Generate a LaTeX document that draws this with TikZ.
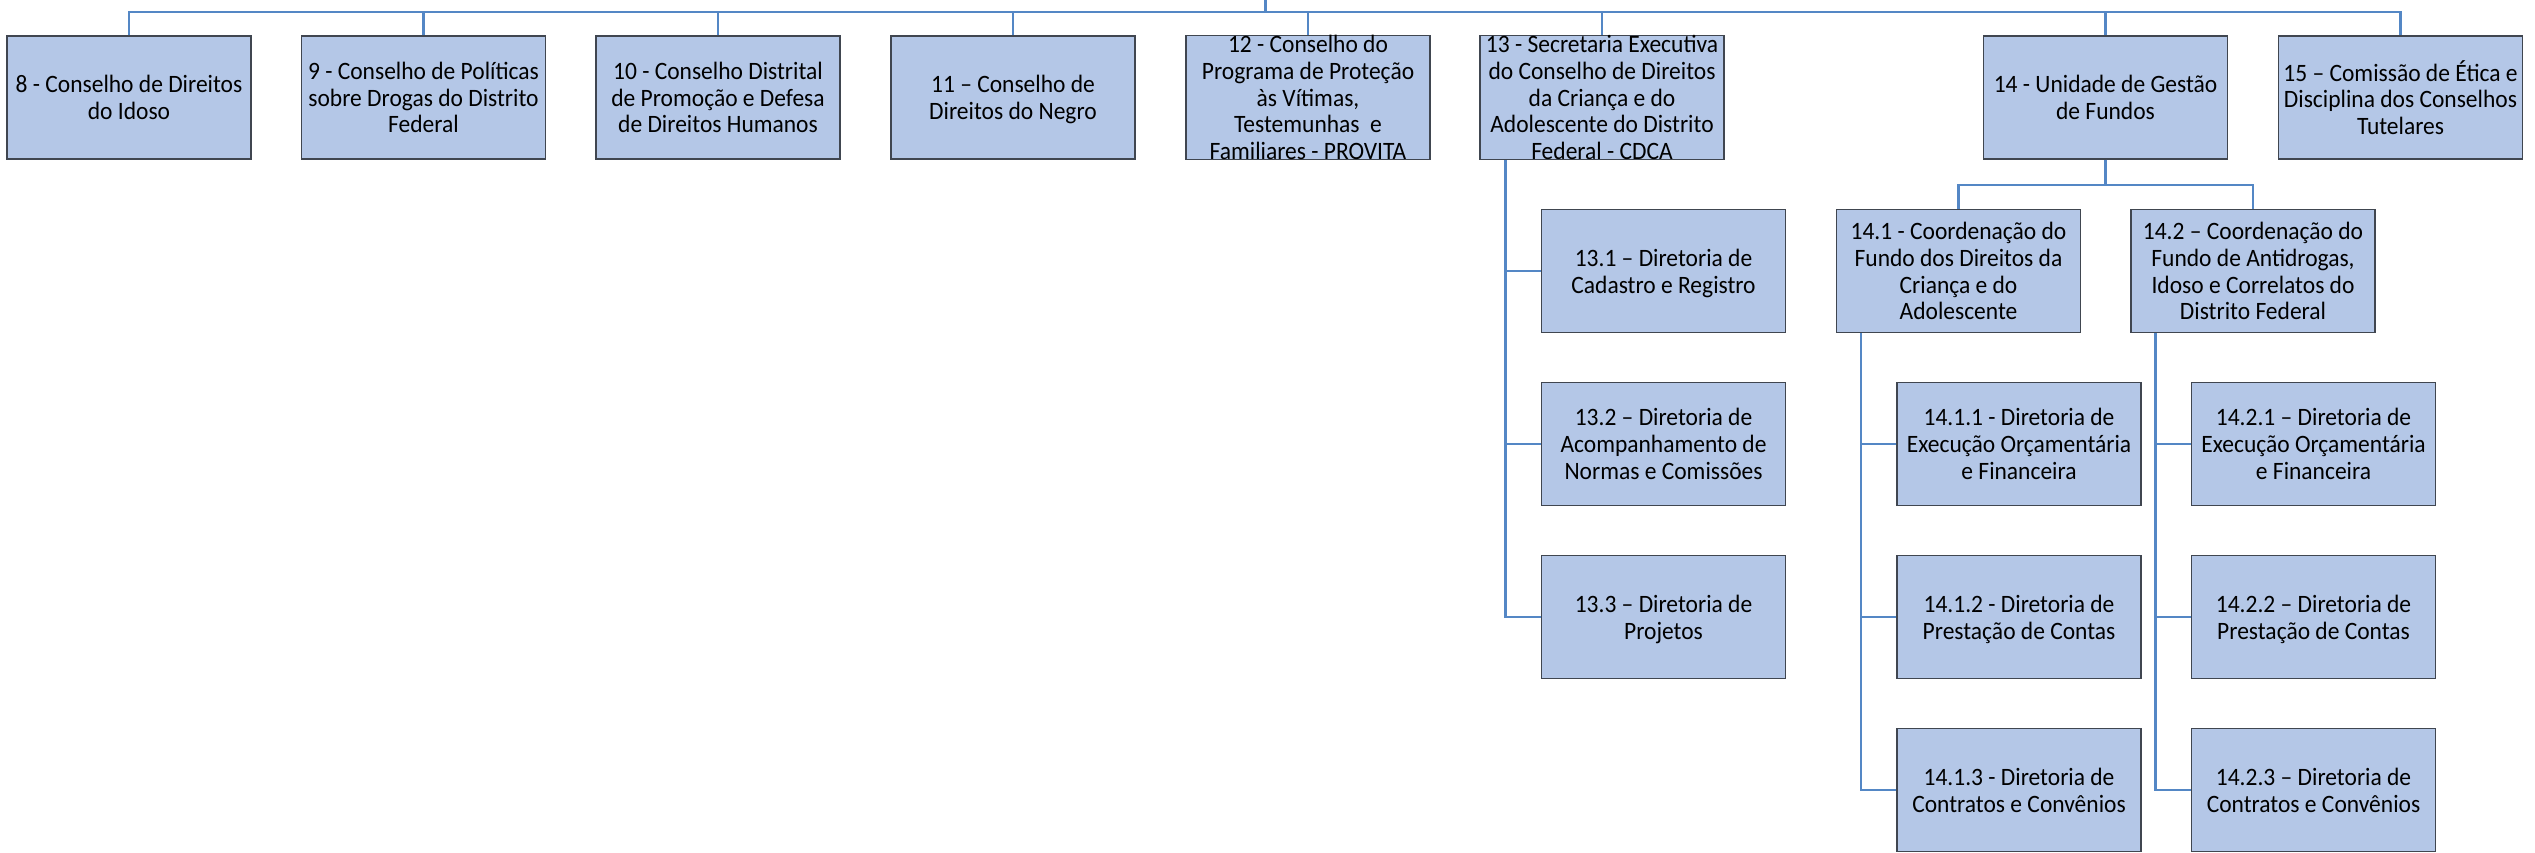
\documentclass[tikz,border=0pt]{standalone}
\usepackage{fontspec}
\setmainfont{Carlito}[FakeStretch=0.94]
\definecolor{caixa}{RGB}{180,199,231}
\definecolor{borda}{RGB}{64,70,80}
\definecolor{linha}{RGB}{84,135,197}
\begin{document}
\begin{tikzpicture}[x=0.5pt, y=-0.5pt,
		unidade/.style={draw=borda, fill=caixa, line width=0.6pt,
			minimum width=122pt, minimum height=61.5pt, inner sep=0pt,
			text depth=0pt, align=center, font=\fontsize{12.5}{13.35}\selectfont},
		ligacao/.style={draw=linha, line width=1.3pt}]
		\useasboundingbox (0, 0) rectangle (2535, 852);
		% primo livello
		\node[unidade] (n8) at (129, 97.5) {8 - Conselho de Direitos\\do Idoso};
		\node[unidade] (n9) at (423.5, 97.5) {9 - Conselho de Políticas\\sobre Drogas do Distrito\\Federal};
		\node[unidade] (n10) at (718, 97.5) {10 - Conselho Distrital\\de Promoção e Defesa\\de Direitos Humanos};
		\node[unidade] (n11) at (1013, 97.5) {11 – Conselho de\\Direitos do Negro};
		\node[unidade] (n12) at (1308, 97.5) {12 - Conselho do\\Programa de Proteção\\às Vítimas,\\Testemunhas \ e\\Familiares - PROVITA};
		\node[unidade] (n13) at (1602, 97.5) {13 - Secretaria Executiva\\do Conselho de Direitos\\da Criança e do\\Adolescente do Distrito\\Federal - CDCA};
		\node[unidade] (n14) at (2105.5, 97.5) {14 - Unidade de Gestão\\de Fundos};
		\node[unidade] (n15) at (2400.5, 97.5) {15 – Comissão de Ética e\\Disciplina dos Conselhos\\Tutelares};
		% barra superiore
		\coordinate (sopra) at (1265.5, 0);
		\coordinate (barra) at (1265.5, 12);
		\draw[ligacao] (sopra) -- (barra);
		\draw[ligacao] (n8.north) -- (n8.north |- barra) -- (n15.north |- barra) -- (n15.north);
		\foreach \n in {n9, n10, n11, n12, n13, n14}
		\draw[ligacao] (\n.north) -- (\n.north |- barra);
		% secretaria executiva
		\node[unidade] (n131) at (1663.5, 271) {13.1 – Diretoria de\\Cadastro e Registro};
		\node[unidade] (n132) at (1663.5, 444) {13.2 – Diretoria de\\Acompanhamento de\\Normas e Comissões};
		\node[unidade] (n133) at (1663.5, 617) {13.3 – Diretoria de\\Projetos};
		\foreach \n in {n131, n132, n133}
		\draw[ligacao] ([xshift=13pt]n13.south west) |- (\n.west);
		% unidade di gestione
		\node[unidade] (n141) at (1958.5, 271) {14.1 - Coordenação do\\Fundo dos Direitos da\\Criança e do\\Adolescente};
		\node[unidade] (n142) at (2253, 271) {14.2 – Coordenação do\\Fundo de Antidrogas,\\Idoso e Correlatos do\\Distrito Federal};
		\draw[ligacao] (n14.south) -- ++(0, 25.5) -| (n141.north);
		\draw[ligacao] (n14.south) -- ++(0, 25.5) -| (n142.north);
		% coordinamenti
		\node[unidade] (n1411) at (2019, 444) {14.1.1 - Diretoria de\\Execução Orçamentária\\e Financeira};
		\node[unidade] (n1412) at (2019, 617) {14.1.2 - Diretoria de\\Prestação de Contas};
		\node[unidade] (n1413) at (2019, 790) {14.1.3 - Diretoria de\\Contratos e Convênios};
		\node[unidade] (n1421) at (2313.5, 444) {14.2.1 – Diretoria de\\Execução Orçamentária\\e Financeira};
		\node[unidade] (n1422) at (2313.5, 617) {14.2.2 – Diretoria de\\Prestação de Contas};
		\node[unidade] (n1423) at (2313.5, 790) {14.2.3 – Diretoria de\\Contratos e Convênios};
		\foreach \n in {n1411, n1412, n1413}
		\draw[ligacao] ([xshift=12.5pt]n141.south west) |- (\n.west);
		\foreach \n in {n1421, n1422, n1423}
		\draw[ligacao] ([xshift=12.5pt]n142.south west) |- (\n.west);
	\end{tikzpicture}
\end{document}
